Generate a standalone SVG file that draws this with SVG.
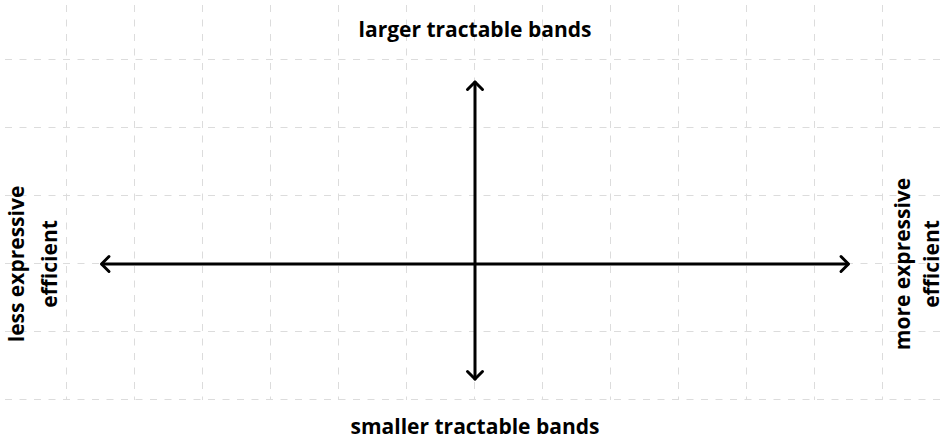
<svg xmlns="http://www.w3.org/2000/svg" width="945" height="439" viewBox="0 0 945 439">
<style>
.grid{stroke:#dcdcdc;stroke-width:1;stroke-dasharray:7 7.5;fill:none}
.axis{stroke:#000;stroke-width:3;fill:none;stroke-linecap:round;stroke-linejoin:round}
.lbl{font-family:"Open Sans","Liberation Sans",sans-serif;font-weight:bold;font-size:21px;fill:#000;text-anchor:middle}
</style>
<rect width="945" height="439" fill="#fff"/>
<g id="grid" class="grid">
<path d="M5 59.5H940M5 127.5H940M5 195.5H940M5 263.5H940M5 331.5H940M5 399.5H940"/>
<path d="M66.5 5V400M134.5 5V400M202.5 5V400M270.5 5V400M338.5 5V400M406.5 5V400M474.5 5V400M542.5 5V400M610.5 5V400M678.5 5V400M746.5 5V400M814.5 5V400M882.5 5V400"/>
</g>
<g id="connectors" class="axis">
<path d="M102 264H848"/>
<path d="M109 256.5L101.5 264L109 271.5"/>
<path d="M841 256.5L848.5 264L841 271.5"/>
<path d="M475 82V379"/>
<path d="M467.5 89.5L475 82L482.5 89.5"/>
<path d="M467.5 371.5L475 379L482.5 371.5"/>
</g>
<g id="top"><text class="lbl" x="475" y="37">larger tractable bands</text></g>
<g id="bottom"><text class="lbl" x="475" y="434">smaller tractable bands</text></g>
<g id="left"><text class="lbl" transform="translate(24 264) rotate(-90)">less expressive</text><text class="lbl" transform="translate(57 264) rotate(-90)">efficient</text></g>
<g id="right"><text class="lbl" transform="translate(910 264) rotate(-90)">more expressive</text><text class="lbl" transform="translate(939 264) rotate(-90)">efficient</text></g>
</svg>
